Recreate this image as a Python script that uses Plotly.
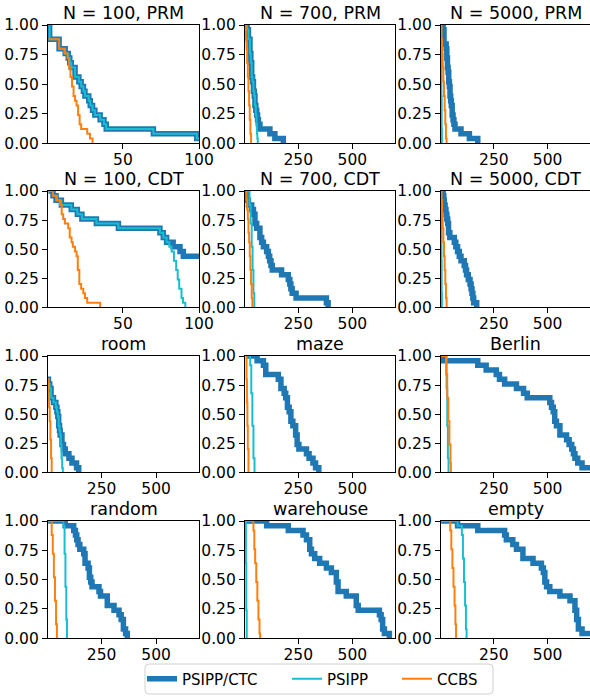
import plotly.graph_objects as go

# ---- N = 100, PRM ----
prm100_ctc_x = [1, 1.8, 8, 12, 14, 15, 16, 18.5, 21, 22.5, 24, 25, 27.5, 28.5, 30, 31.5, 35, 37.5, 39, 70, 98.5, 100]
prm100_ctc_y = [1.0, 0.88, 0.80, 0.76, 0.72, 0.68, 0.64, 0.56, 0.52, 0.48, 0.44, 0.40, 0.36, 0.32, 0.28, 0.24, 0.20, 0.16, 0.12, 0.08, 0.04, 0.04]
prm100_psipp_x = prm100_ctc_x
prm100_psipp_y = prm100_ctc_y
prm100_ccbs_x = [1, 8, 11.5, 13.5, 14.5, 15.5, 16.5, 17.5, 18.5, 19.5, 20.5, 21.5, 22.5, 26.5, 28.3, 30]
prm100_ccbs_y = [0.88, 0.80, 0.76, 0.72, 0.64, 0.56, 0.48, 0.40, 0.36, 0.32, 0.24, 0.16, 0.12, 0.08, 0.04, 0.0]

# ---- N = 700, PRM ----
prm700_ctc_x = [5, 14, 20, 27, 31, 35, 39, 43, 47, 50, 54, 58, 62, 66, 73, 119, 142, 181]
prm700_ctc_y = [1.0, 0.96, 0.88, 0.76, 0.68, 0.56, 0.52, 0.44, 0.40, 0.32, 0.28, 0.24, 0.20, 0.16, 0.12, 0.08, 0.04, 0.0]
prm700_psipp_x = [5, 14, 20, 27, 31, 35, 39, 43, 47, 50, 54, 57, 59, 61, 63]
prm700_psipp_y = [1.0, 0.96, 0.88, 0.76, 0.68, 0.56, 0.52, 0.44, 0.40, 0.32, 0.24, 0.16, 0.08, 0.04, 0.0]
prm700_ccbs_x = [5, 8, 11, 14, 17, 20, 23, 26, 29, 32]
prm700_ccbs_y = [1.0, 0.88, 0.80, 0.68, 0.56, 0.44, 0.32, 0.20, 0.08, 0.0]

# ---- N = 5000, PRM ----
prm5000_ctc_x = [3, 14, 18, 28, 31, 34, 37, 40, 43, 46, 49, 52, 56, 60, 64, 69, 97, 136, 175]
prm5000_ctc_y = [1.0, 0.96, 0.84, 0.80, 0.72, 0.64, 0.60, 0.52, 0.48, 0.40, 0.36, 0.32, 0.24, 0.20, 0.16, 0.12, 0.08, 0.04, 0.0]
prm5000_psipp_x = [3, 5, 6, 7, 8]
prm5000_psipp_y = [1.0, 0.72, 0.40, 0.12, 0.0]
prm5000_ccbs_x = [3, 6, 9, 12, 15, 18, 21, 24, 27, 30]
prm5000_ccbs_y = [1.0, 0.88, 0.76, 0.64, 0.52, 0.40, 0.28, 0.16, 0.04, 0.0]

# ---- N = 100, CDT ----
cdt100_ctc_x = [1, 4, 6, 9.5, 16, 20, 23, 32.5, 47, 74.3, 76.5, 78.7, 83, 87.5, 89.7, 100]
cdt100_ctc_y = [1.0, 0.96, 0.92, 0.88, 0.84, 0.80, 0.76, 0.72, 0.68, 0.64, 0.60, 0.56, 0.52, 0.48, 0.44, 0.44]
cdt100_psipp_x = [1, 4, 6, 9.5, 16, 20, 23, 32.5, 47, 74.3, 76.5, 78.7, 80.5, 82, 83.5, 85, 86, 87, 88.5, 89.5, 91]
cdt100_psipp_y = [1.0, 0.96, 0.92, 0.88, 0.84, 0.80, 0.76, 0.72, 0.68, 0.64, 0.60, 0.56, 0.52, 0.48, 0.40, 0.32, 0.24, 0.16, 0.08, 0.04, 0.0]
cdt100_ccbs_x = [1, 4, 6.5, 8.6, 9.7, 10.7, 11.8, 14, 15, 16.2, 17, 18.5, 19.5, 20.3, 21.3, 22.5, 23.9, 25, 26.5, 35]
cdt100_ccbs_y = [1.0, 0.96, 0.92, 0.88, 0.80, 0.76, 0.72, 0.68, 0.60, 0.56, 0.52, 0.48, 0.44, 0.32, 0.20, 0.16, 0.12, 0.08, 0.04, 0.0]

# ---- N = 700, CDT ----
cdt700_ctc_x = [8, 12, 20, 35, 43, 50, 58, 73, 81, 89, 104, 112, 118, 124, 130, 173, 204, 211, 216, 222, 240, 380, 388]
cdt700_ctc_y = [1.0, 0.92, 0.88, 0.84, 0.80, 0.72, 0.68, 0.60, 0.56, 0.52, 0.48, 0.44, 0.40, 0.36, 0.32, 0.28, 0.24, 0.20, 0.16, 0.12, 0.08, 0.04, 0.0]
cdt700_psipp_x = [8, 25, 30, 35, 39, 43, 47]
cdt700_psipp_y = [1.0, 0.88, 0.72, 0.52, 0.32, 0.12, 0.0]
cdt700_ccbs_x = [8, 11, 14, 17, 20, 23, 26, 29, 32, 35, 38]
cdt700_ccbs_y = [1.0, 0.92, 0.84, 0.76, 0.64, 0.56, 0.44, 0.32, 0.20, 0.08, 0.0]

# ---- N = 5000, CDT ----
cdt5000_ctc_x = [3, 14, 17, 19, 23, 27, 31, 35, 39, 45, 66, 73, 81, 89, 97, 112, 118, 123, 131, 139, 144, 148, 152, 156, 170]
cdt5000_ctc_y = [1.0, 0.96, 0.92, 0.88, 0.84, 0.80, 0.76, 0.72, 0.64, 0.60, 0.56, 0.52, 0.48, 0.44, 0.40, 0.36, 0.32, 0.28, 0.24, 0.20, 0.16, 0.12, 0.08, 0.04, 0.0]
cdt5000_psipp_x = [3, 5, 6, 7, 8]
cdt5000_psipp_y = [1.0, 0.72, 0.40, 0.12, 0.0]
cdt5000_ccbs_x = [3, 6, 9, 12, 15, 18, 21, 24, 27, 30]
cdt5000_ccbs_y = [1.0, 0.92, 0.80, 0.68, 0.56, 0.44, 0.32, 0.20, 0.08, 0.0]

# ---- room ----
room_ctc_x = [3, 6, 12, 18, 29, 40, 45, 49, 53, 57, 60, 68, 75, 83, 100, 114, 135, 145]
room_ctc_y = [0.80, 0.76, 0.72, 0.64, 0.60, 0.56, 0.52, 0.48, 0.40, 0.36, 0.32, 0.24, 0.20, 0.16, 0.12, 0.08, 0.04, 0.0]
room_psipp_x = [3, 6, 12, 18, 29, 40, 45, 49, 53, 57, 60, 63, 66, 69, 72]
room_psipp_y = [0.80, 0.76, 0.72, 0.64, 0.60, 0.56, 0.52, 0.48, 0.40, 0.36, 0.32, 0.24, 0.12, 0.04, 0.0]
room_ccbs_x = [3, 6, 9, 12, 15, 18, 21]
room_ccbs_y = [0.80, 0.68, 0.56, 0.44, 0.28, 0.12, 0.0]

# ---- maze ----
maze_ctc_x = [8, 60, 89, 100, 158, 170, 185, 192, 200, 208, 216, 225, 238, 245, 253, 288, 300, 318, 330, 345]
maze_ctc_y = [1.0, 0.96, 0.92, 0.84, 0.80, 0.72, 0.68, 0.64, 0.56, 0.52, 0.44, 0.40, 0.32, 0.24, 0.20, 0.16, 0.12, 0.08, 0.04, 0.0]
maze_psipp_x = [8, 28, 33, 38, 43, 48]
maze_psipp_y = [1.0, 0.92, 0.68, 0.40, 0.12, 0.0]
maze_ccbs_x = [8, 11, 13, 15, 17, 20]
maze_ccbs_y = [1.0, 0.80, 0.60, 0.40, 0.20, 0.0]

# ---- Berlin ----
berlin_ctc_x = [5, 15, 175, 214, 261, 276, 300, 355, 388, 405, 510, 518, 526, 533, 541, 557, 588, 600, 612, 620, 627, 640, 660, 700]
berlin_ctc_y = [1.0, 0.96, 0.92, 0.88, 0.84, 0.80, 0.76, 0.72, 0.68, 0.64, 0.60, 0.56, 0.52, 0.44, 0.40, 0.32, 0.28, 0.24, 0.20, 0.16, 0.12, 0.08, 0.04, 0.04]
berlin_psipp_x = [5, 30, 33, 36, 39]
berlin_psipp_y = [1.0, 0.72, 0.40, 0.12, 0.0]
berlin_ccbs_x = [5, 28, 33, 38, 43, 48, 50]
berlin_ccbs_y = [1.0, 0.84, 0.64, 0.44, 0.24, 0.08, 0.0]

# ---- random ----
random_ctc_x = [5, 83, 122, 130, 136, 142, 150, 168, 174, 188, 194, 200, 206, 238, 245, 276, 307, 330, 340, 350, 360, 368]
random_ctc_y = [1.0, 0.96, 0.92, 0.88, 0.84, 0.80, 0.76, 0.72, 0.64, 0.60, 0.52, 0.48, 0.44, 0.40, 0.36, 0.28, 0.24, 0.20, 0.16, 0.08, 0.04, 0.0]
random_psipp_x = [5, 75, 80, 84, 88, 91]
random_psipp_y = [1.0, 0.96, 0.72, 0.44, 0.16, 0.0]
random_ccbs_x = [5, 21, 26, 31, 36, 41, 45]
random_ccbs_y = [1.0, 0.88, 0.72, 0.52, 0.32, 0.12, 0.0]

# ---- warehouse ----
warehouse_ctc_x = [5, 104, 204, 272, 288, 303, 311, 326, 349, 380, 403, 426, 434, 472, 518, 527, 625, 633, 640, 648, 671]
warehouse_ctc_y = [1.0, 0.96, 0.92, 0.88, 0.84, 0.76, 0.72, 0.68, 0.64, 0.60, 0.56, 0.48, 0.40, 0.36, 0.28, 0.24, 0.20, 0.16, 0.08, 0.04, 0.0]
warehouse_psipp_x = [5, 8, 10, 12]
warehouse_psipp_y = [1.0, 0.64, 0.24, 0.0]
warehouse_ccbs_x = [5, 43, 47, 51, 56, 61, 66, 71, 74]
warehouse_ccbs_y = [1.0, 0.92, 0.76, 0.64, 0.48, 0.32, 0.16, 0.04, 0.0]

# ---- empty ----
empty_ctc_x = [5, 81, 175, 300, 308, 338, 355, 385, 432, 471, 480, 487, 495, 510, 557, 604, 627, 635, 643, 660, 700]
empty_ctc_y = [1.0, 0.96, 0.92, 0.88, 0.84, 0.80, 0.76, 0.68, 0.64, 0.60, 0.56, 0.48, 0.44, 0.40, 0.36, 0.32, 0.24, 0.16, 0.08, 0.04, 0.04]
empty_psipp_x = [5, 81, 101, 106, 111, 116, 120, 123]
empty_psipp_y = [1.0, 0.96, 0.88, 0.68, 0.48, 0.28, 0.08, 0.0]
empty_ccbs_x = [5, 47, 52, 57, 62, 67, 71, 74]
empty_ccbs_y = [1.0, 0.92, 0.76, 0.60, 0.44, 0.28, 0.12, 0.0]

titles = ["N = 100, PRM", "N = 700, PRM", "N = 5000, PRM",
          "N = 100, CDT", "N = 700, CDT", "N = 5000, CDT",
          "room", "maze", "Berlin",
          "random", "warehouse", "empty"]

panels = [
    (prm100_ctc_x, prm100_ctc_y, prm100_psipp_x, prm100_psipp_y, prm100_ccbs_x, prm100_ccbs_y),
    (prm700_ctc_x, prm700_ctc_y, prm700_psipp_x, prm700_psipp_y, prm700_ccbs_x, prm700_ccbs_y),
    (prm5000_ctc_x, prm5000_ctc_y, prm5000_psipp_x, prm5000_psipp_y, prm5000_ccbs_x, prm5000_ccbs_y),
    (cdt100_ctc_x, cdt100_ctc_y, cdt100_psipp_x, cdt100_psipp_y, cdt100_ccbs_x, cdt100_ccbs_y),
    (cdt700_ctc_x, cdt700_ctc_y, cdt700_psipp_x, cdt700_psipp_y, cdt700_ccbs_x, cdt700_ccbs_y),
    (cdt5000_ctc_x, cdt5000_ctc_y, cdt5000_psipp_x, cdt5000_psipp_y, cdt5000_ccbs_x, cdt5000_ccbs_y),
    (room_ctc_x, room_ctc_y, room_psipp_x, room_psipp_y, room_ccbs_x, room_ccbs_y),
    (maze_ctc_x, maze_ctc_y, maze_psipp_x, maze_psipp_y, maze_ccbs_x, maze_ccbs_y),
    (berlin_ctc_x, berlin_ctc_y, berlin_psipp_x, berlin_psipp_y, berlin_ccbs_x, berlin_ccbs_y),
    (random_ctc_x, random_ctc_y, random_psipp_x, random_psipp_y, random_ccbs_x, random_ccbs_y),
    (warehouse_ctc_x, warehouse_ctc_y, warehouse_psipp_x, warehouse_psipp_y, warehouse_ccbs_x, warehouse_ccbs_y),
    (empty_ctc_x, empty_ctc_y, empty_psipp_x, empty_psipp_y, empty_ccbs_x, empty_ccbs_y),
]

W, H = 590, 696
FONT = "DejaVu Sans"
col_px = [(48, 199), (245, 395), (441, 590)]
row_px = [(25, 143.3), (191, 307.3), (356, 472.3), (521, 638.3)]

# name, colour, width, legend id, legend left (px)
series = [("PSIPP/CTC", "#1f77b4", 5.5, "legend", 142),
          ("PSIPP", "#17becf", 2, "legend2", 287),
          ("CCBS", "#ff7f0e", 2, "legend3", 397)]

fig = go.Figure()
layout = {}
annotations = []

for i, data in enumerate(panels):
    r, c = divmod(i, 3)
    n = i + 1
    xs = "x" if n == 1 else f"x{n}"
    ys = "y" if n == 1 else f"y{n}"
    for k, (name, color, width, leg, _) in enumerate(series):
        fig.add_trace(go.Scatter(
            x=data[2 * k], y=data[2 * k + 1], mode="lines", line_shape="hv",
            line=dict(color=color, width=width), name=name,
            showlegend=(i == 0), legend=leg, xaxis=xs, yaxis=ys))

    small = r < 2 and c == 0
    x0, x1 = col_px[c]
    y0, y1 = row_px[r]
    common = dict(showline=True, mirror=True, linecolor="black", linewidth=1.1,
                  ticks="outside", ticklen=5, tickwidth=1.1, tickcolor="black",
                  showgrid=False, zeroline=False, automargin=False,
                  tickfont=dict(family=FONT, size=15.5, color="black"))
    layout["xaxis" if n == 1 else f"xaxis{n}"] = dict(
        domain=[x0 / W, min(x1 / W, 1.0)],
        range=[0.7, 100] if small else [4, 697],
        tickvals=[50, 100] if small else [250, 500],
        ticklabelstandoff=-3,
        anchor=ys, **common)
    layout["yaxis" if n == 1 else f"yaxis{n}"] = dict(
        domain=[1 - y1 / H, 1 - y0 / H], range=[0, 1],
        tickvals=[0, 0.25, 0.5, 0.75, 1.0],
        ticktext=["0.00", "0.25", "0.50", "0.75", "1.00"],
        anchor=xs, **common)
    annotations.append(dict(
        text=titles[i], x=(x0 + x1) / 2 / W, y=1 - (y0 - 12.5) / H,
        xref="paper", yref="paper", xanchor="center", yanchor="middle",
        showarrow=False, font=dict(family=FONT, size=17.5, color="black")))

for name, color, width, leg, left in series:
    layout[leg] = dict(x=left / W, xanchor="left", y=1 - 679 / H, yanchor="middle",
                       orientation="h", bgcolor="rgba(0,0,0,0)", borderwidth=0,
                       itemwidth=30, font=dict(family=FONT, size=15, color="black"))

# rounded legend frame
bx0, bx1, by0, by1, rad = 145 / W, 493 / W, 1 - 694 / H, 1 - 664 / H, 4
rx, ry = rad / W, rad / H
frame = (f"M {bx0 + rx},{by0} L {bx1 - rx},{by0} Q {bx1},{by0} {bx1},{by0 + ry} "
         f"L {bx1},{by1 - ry} Q {bx1},{by1} {bx1 - rx},{by1} L {bx0 + rx},{by1} "
         f"Q {bx0},{by1} {bx0},{by1 - ry} L {bx0},{by0 + ry} Q {bx0},{by0} {bx0 + rx},{by0} Z")

fig.update_layout(
    **layout,
    annotations=annotations,
    shapes=[dict(type="path", path=frame, xref="paper", yref="paper",
                 line=dict(color="#d0d0d0", width=1), fillcolor="white", layer="below")],
    width=W, height=H,
    margin=dict(l=0, r=0, t=0, b=0),
    paper_bgcolor="white", plot_bgcolor="white",
    font=dict(family=FONT, size=15, color="black"),
)

# the page's default body margin would push the figure 8px off the window
fig.write_html("out.html", config={"displayModeBar": False},
               post_script="document.body.style.margin='0';")
